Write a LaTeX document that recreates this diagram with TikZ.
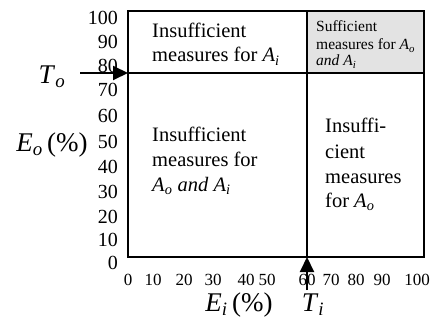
\documentclass[tikz,border=0pt]{standalone}
\usepackage{fontspec}
\setmainfont{Liberation Serif}
\usetikzlibrary{arrows.meta}
\newcommand{\Asub}[1]{\textit{A}\textsubscript{\textit{#1}}}
\begin{document}
\begin{tikzpicture}[x=1pt,y=-1pt,
  tick/.style={font=\fontsize{20}{22}\selectfont, inner sep=0pt},
  xtick/.style={font=\fontsize{17}{20}\selectfont, inner sep=0pt},
  celltext/.style={font=\fontsize{20.5}{24}\selectfont, inner sep=0pt, anchor=base west},
  smalltext/.style={font=\fontsize{15.5}{17}\selectfont, inner sep=0pt, anchor=base west},
  bigl/.style={font=\fontsize{27}{30}\selectfont, inner sep=0pt},
  pointer/.style={line width=2pt, -{Triangle[length=15pt,width=14pt]}}]
\useasboundingbox (0,0) rectangle (438,323);
% gray cell
\fill[gray!22] (307,11) rectangle (424,73);
% box and dividers
\coordinate (tl) at (128,11);
\coordinate (br) at (424,257);
\draw[line width=2pt] (tl) rectangle (br);
\coordinate (hl) at (128,73);
\coordinate (hr) at (424,73);
\coordinate (vt) at (307,11);
\coordinate (vb) at (307,257);
\draw[line width=1.8pt] (hl) -- (hr);
\draw[line width=1.8pt] (vt) -- (vb);
% y ticks
\foreach \v/\y in {100/18,90/42,80/66,70/90,60/116,50/142,40/167,30/192,20/217,10/240,0/263}
  \node[tick, anchor=east] (y\v) at (118,\y) {\v};
% x ticks
\foreach \v/\x in {0/128,10/153,20/184,30/213,40/246,50/267,60/307,70/331,80/356,90/382,100/417}
  \node[xtick] (x\v) at (\x,280) {\v};
% arrows
\coordinate (tostart) at (80,73);
\draw[pointer] (tostart) -- (hl);
\coordinate (tistart) at (307,290);
\draw[pointer] (tistart) -- (vb);
% axis labels
\node[bigl] (To) at (52,77) {\textit{T}\textsubscript{\textit{o}}};
\node[bigl] (Eo) at (52,145) {\textit{E}\textsubscript{\textit{o}}\,(\%)};
\node[bigl] (Ei) at (239,305) {\textit{E}\textsubscript{\textit{i}}\,(\%)};
\node[bigl] (Ti) at (313,305) {\textit{T}\textsubscript{\textit{i}}};
% cell texts
\node[celltext] (a1) at (152,38) {Insufficient};
\node[celltext] (a2) at (152,62) {measures for \Asub{i}};
\node[smalltext] (s1) at (316,32) {Sufficient};
\node[smalltext] (s2) at (316,50) {measures for \Asub{o}};
\node[smalltext] (s3) at (316,66) {\textit{and} \Asub{i}};
\node[celltext] (b1) at (152,142) {Insufficient};
\node[celltext] (b2) at (152,166) {measures for};
\node[celltext] (b3) at (152,191) {\Asub{o} \textit{and} \Asub{i}};
\node[celltext] (c1) at (325,133) {Insuffi-};
\node[celltext] (c2) at (325,158) {cient};
\node[celltext] (c3) at (325,183) {measures};
\node[celltext] (c4) at (325,207) {for \Asub{o}};
\end{tikzpicture}
\end{document}
